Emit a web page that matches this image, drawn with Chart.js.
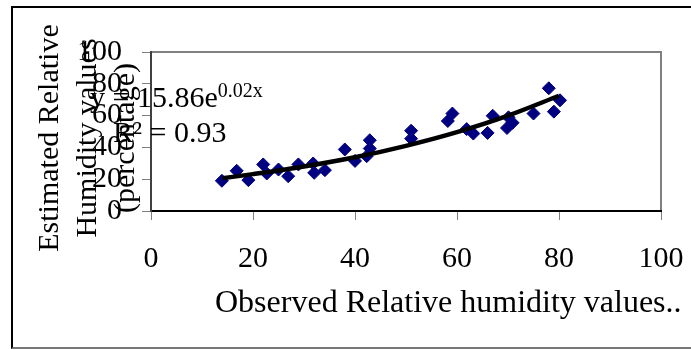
<!DOCTYPE html>
<html>
<head>
<meta charset="utf-8">
<script src="https://cdn.jsdelivr.net/npm/chart.js@4"></script>
<style>
html,body{margin:0;padding:0;background:#fff;}
#wrap{position:relative;width:691px;height:350px;overflow:hidden;}
#frame{position:absolute;left:11px;top:6px;width:700px;height:343px;box-sizing:border-box;border-top:2px solid #000;border-left:2px solid #000;border-bottom:2px solid #777;pointer-events:none;}
</style>
</head>
<body>
<div id="wrap"><canvas id="c" width="691" height="350"></canvas><div id="frame"></div></div>
<script>
// observed vs estimated RH
const obsX=[13.9,16.8,19.1,22.0,22.7,25.0,26.9,28.9,31.8,32.0,34.1,38.0,40.0,42.3,42.9,42.9,51.0,51.0,58.2,59.1,61.9,63.2,66.0,67.0,70.1,69.8,70.9,75.0,78.0,79.0,80.2];
const estY=[19.0,25.3,19.4,29.3,23.6,26.1,21.9,29.3,29.9,24.0,25.7,38.7,31.5,34.5,44.5,39.3,50.5,45.5,56.6,61.3,51.5,48.7,49.1,59.9,58.9,52.2,55.5,61.3,77.2,62.5,69.6];
// trend curve as drawn
const trendX=[14,20,30,40,50,60,70,80];
const trendY=[20.6,23.2,28.0,33.8,41.0,49.6,60.0,72.5];
const xTicks=[0,20,40,60,80,100];
const yTicks=[0,20,40,60,80,100];
const yTitle=['Estimated Relative','Humidity values','(percentage)'];
const xTitle='Observed Relative humidity values..';
const eqLine1='y = 15.86e', eqSup='0.02x', eqLine2='R\u00b2 = 0.93';

const FONT='"Liberation Serif", "Times New Roman", serif';

const texts={
    id:'texts',
    beforeDraw(c){
        const {ctx,chartArea:a}=c;
        ctx.save();ctx.strokeStyle='#808080';ctx.lineWidth=2;
        ctx.strokeRect(a.left,a.top,a.right-a.left,a.bottom-a.top);
        ctx.restore();
    },
    afterDraw(c){
        const ctx=c.ctx;
        ctx.save();
        ctx.fillStyle='#000';
        ctx.font='30px '+FONT;
        // y title, rotated
        ctx.save();ctx.translate(0,138);ctx.rotate(-Math.PI/2);
        ctx.textAlign='center';ctx.textBaseline='middle';
        yTitle.forEach((t,i)=>ctx.fillText(t,0,50+i*38));
        ctx.restore();
        // trendline equation
        ctx.textAlign='left';ctx.textBaseline='alphabetic';
        ctx.fillText(eqLine1,90,107);
        const w=ctx.measureText(eqLine1).width;
        ctx.font='20px '+FONT;
        ctx.fillText(eqSup,90+w,97);
        ctx.font='30px '+FONT;
        ctx.fillText(eqLine2,113,142);
        // x title
        ctx.font='32px '+FONT;
        ctx.fillText(xTitle,215,312);
        ctx.restore();
    }
};

const tickFont={family:FONT,size:30,lineHeight:1.2};
new Chart(document.getElementById('c'),{
    type:'scatter',
    data:{datasets:[
        {label:'trend',data:trendX.map((x,i)=>({x,y:trendY[i]})),showLine:true,borderColor:'#000',borderWidth:4.5,pointRadius:0,cubicInterpolationMode:'monotone',fill:false,order:0},
        {label:'RH',data:obsX.map((x,i)=>({x,y:estY[i]})),pointStyle:'rectRot',pointRadius:6.5,backgroundColor:'#000080',borderColor:'#000080',borderWidth:1,order:1}
    ]},
    options:{
        responsive:false,animation:false,
        layout:{padding:{top:52,right:30,left:0,bottom:0}},
        plugins:{legend:{display:false},tooltip:{enabled:false}},
        scales:{
            x:{type:'linear',min:0,max:100,
                afterBuildTicks:s=>{s.ticks=xTicks.map(v=>({value:v}));},
                afterFit:s=>{s.height=139;s.paddingLeft=0;s.paddingRight=0;},
                grid:{drawOnChartArea:false,drawTicks:true,tickLength:9,tickColor:'#808080',lineWidth:1},
                border:{color:'#000',width:2},
                ticks:{font:tickFont,color:'#000',padding:21,maxRotation:0,autoSkip:false}},
            y:{type:'linear',min:0,max:100,
                afterBuildTicks:s=>{s.ticks=yTicks.map(v=>({value:v}));},
                afterFit:s=>{s.width=151;s.paddingTop=0;s.paddingBottom=0;},
                grid:{drawOnChartArea:false,drawTicks:true,tickLength:9,tickColor:'#808080',lineWidth:1},
                border:{color:'#404040',width:2},
                ticks:{font:tickFont,color:'#000',padding:20,autoSkip:false}}
        }
    },
    plugins:[texts]
});
</script>
</body>
</html>
